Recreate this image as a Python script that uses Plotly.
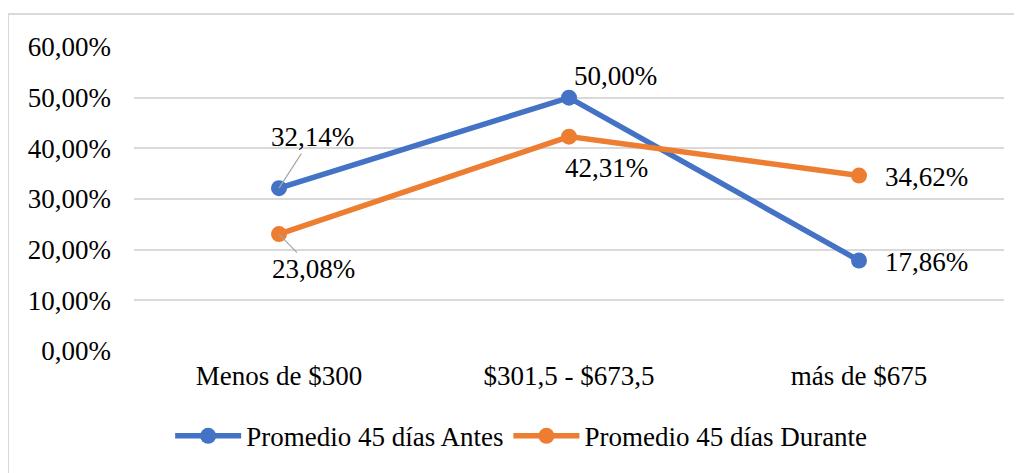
import plotly.graph_objects as go

categories = ["Menos de $300", "$301,5 - $673,5", "más de $675"]
antes = [0.3214, 0.5000, 0.1786]
durante = [0.2308, 0.4231, 0.3462]
series_names = ["Promedio 45 días Antes", "Promedio 45 días Durante"]
tick_vals = [0, 0.1, 0.2, 0.3, 0.4, 0.5, 0.6]
tick_text = ["0,00%", "10,00%", "20,00%", "30,00%", "40,00%", "50,00%", "60,00%"]

BLUE = "#4472C4"
ORANGE = "#ED7D31"
FONT = "Liberation Serif"
FS = 27

def fmt(v):
    return f"{v*100:.2f}%".replace(".", ",")

fig = go.Figure()
for name, vals, col in [(series_names[0], antes, BLUE), (series_names[1], durante, ORANGE)]:
    fig.add_trace(go.Scatter(
        x=categories, y=vals, name=name, mode="lines+markers",
        line=dict(color=col, width=5.5),
        marker=dict(color=col, size=16),
    ))

# label placement offsets (pixels): (dx, dy, leader line); dy positive = up
antes_off = [(33, 51, True), (46, 22, False), (67, -1, False)]
durante_off = [(34, -35, True), (37, -31, False), (67, -1, False)]

annotations = []
for vals, offs in [(antes, antes_off), (durante, durante_off)]:
    for c, v, (dx, dy, arrow) in zip(categories, vals, offs):
        if arrow:
            annotations.append(dict(
                x=c, y=v, xref="x", yref="y", text=fmt(v),
                showarrow=True, arrowhead=0, arrowwidth=1.2, arrowcolor="#A6A6A6",
                ax=dx, ay=-dy, standoff=0,
                font=dict(family=FONT, size=FS, color="#000000"),
            ))
        else:
            annotations.append(dict(
                x=c, y=v, xref="x", yref="y", text=fmt(v), showarrow=False,
                xshift=dx, yshift=dy,
                font=dict(family=FONT, size=FS, color="#000000"),
            ))

fig.update_layout(
    width=1014, height=465,
    margin=dict(l=126, r=18, t=39, b=114),
    paper_bgcolor="white", plot_bgcolor="white",
    font=dict(family=FONT, size=FS, color="#000000"),
    showlegend=True,
    legend=dict(orientation="h", x=0.445, xanchor="center", y=-0.2, yanchor="top",
                font=dict(family=FONT, size=FS), itemwidth=66, tracegroupgap=0),
    annotations=annotations,
    shapes=[dict(type="rect", xref="paper", yref="paper",
                 x0=-0.1448, x1=1.04, y0=-0.45, y1=1.1086,
                 line=dict(color="#D9D9D9", width=2), layer="below")],
)
fig.update_xaxes(showgrid=False, showline=False, zeroline=False, ticks="",
                 ticklabelstandoff=6,
                 tickfont=dict(family=FONT, size=FS), range=[-0.5, 2.5])
fig.update_yaxes(range=[0, 0.6], tickvals=tick_vals, ticktext=tick_text,
                 showgrid=True, gridcolor="#D9D9D9", gridwidth=2, zeroline=False,
                 showline=False, ticks="", ticklabelstandoff=22,
                 tickfont=dict(family=FONT, size=FS))

fig.write_html("out.html")
